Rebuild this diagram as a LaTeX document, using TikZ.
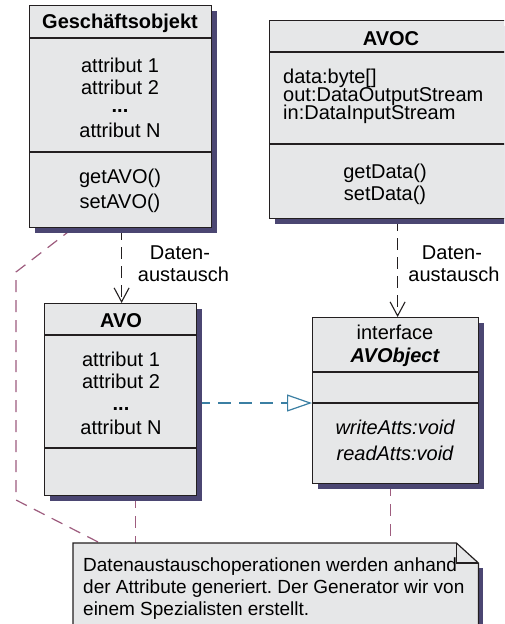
\documentclass[tikz,border=0pt]{standalone}
\usepackage{fontspec}
\setmainfont{Liberation Sans}
\frenchspacing
\usetikzlibrary{arrows.meta,shadows,calc,backgrounds}
\definecolor{boxfill}{HTML}{E6E7E8}
\definecolor{shadowc}{HTML}{4B4672}
\definecolor{linec}{HTML}{231F20}
\definecolor{notec}{HTML}{9E5C7E}
\definecolor{realc}{HTML}{3B7FA3}
\begin{document}
\begin{tikzpicture}[x=1pt,y=-1pt,
  classbox/.style={draw=linec, line width=1.2pt, fill=boxfill, anchor=north west, inner sep=0pt,
    general shadow={fill=shadowc, shadow xshift=5pt, shadow yshift=-5pt}},
  sepline/.style={draw=linec, line width=1.1pt},
  txt/.style={font=\fontsize{20}{22}\selectfont, inner sep=0pt, anchor=base},
  txtl/.style={txt, anchor=base west},
  txtb/.style={txt, font=\fontsize{20}{22}\selectfont\bfseries},
  txti/.style={txt, font=\fontsize{20}{22}\selectfont\itshape},
  txtbi/.style={txt, font=\fontsize{20}{22}\selectfont\bfseries\itshape},
  notetxt/.style={font=\fontsize{19}{22}\selectfont, inner sep=0pt, anchor=base west},
  flow/.style={draw=linec, line width=1.1pt, dash pattern=on 12pt off 7pt,
    -{Straight Barb[length=14pt,width=15pt]}},
  realize/.style={draw=realc, line width=1.2pt, dash pattern=on 13pt off 8pt,
    -{Triangle[open,length=25pt,width=17pt]}},
  anchorline/.style={draw=notec, line width=1.2pt, dash pattern=on 12pt off 8pt},
]
\useasboundingbox (0,0) rectangle (504,624);
\clip (0,0) rectangle (504,624);

% ---------- classes ----------
\node[classbox, minimum width=182pt, minimum height=222pt] (gesch) at (29,5) {};
\draw[sepline] ($(gesch.north west)+(0,33)$) -- ($(gesch.north east)+(0,33)$);
\draw[sepline] ($(gesch.north west)+(0,147)$) -- ($(gesch.north east)+(0,147)$);
\node[txtb] (gtitle) at (120,28.5) {Geschäftsobjekt};
\node[txt] (ga1) at (120,72) {attribut 1};
\node[txt] (ga2) at (120,94) {attribut 2};
\node[txtb] (gad) at (120,112) {...};
\node[txt] (gan) at (120,137) {attribut N};
\node[txt] (gm1) at (120,183.5) {getAVO()};
\node[txt] (gm2) at (120,208.5) {setAVO()};

\node[classbox, minimum width=243pt, minimum height=198pt] (avoc) at (269,20) {};
\draw[sepline] ($(avoc.north west)+(0,32)$) -- ($(avoc.north east)+(0,32)$);
\draw[sepline] ($(avoc.north west)+(0,124)$) -- ($(avoc.north east)+(0,124)$);
\node[txtb] (ctitle) at (391,45) {AVOC};
\node[txtl] (ca1) at (283,83.5) {data:byte[]};
\node[txtl] (ca2) at (283,101.5) {out:DataOutputStream};
\node[txtl] (ca3) at (283,119.5) {in:DataInputStream};
\node[txt] (cm1) at (385,178) {getData()};
\node[txt] (cm2) at (385,200) {setData()};

\node[classbox, minimum width=152pt, minimum height=192pt] (avo) at (44,303) {};
\draw[sepline] ($(avo.north west)+(0,32)$) -- ($(avo.north east)+(0,32)$);
\draw[sepline] ($(avo.north west)+(0,145)$) -- ($(avo.north east)+(0,145)$);
\node[txtb] (atitle) at (121,327) {AVO};
\node[txt] (aa1) at (121,366.5) {attribut 1};
\node[txt] (aa2) at (121,388.5) {attribut 2};
\node[txtb] (aad) at (121,410) {...};
\node[txt] (aan) at (121,434) {attribut N};

\node[classbox, minimum width=166pt, minimum height=166pt] (avobj) at (312,317) {};
\draw[sepline] ($(avobj.north west)+(0,55)$) -- ($(avobj.north east)+(0,55)$);
\draw[sepline] ($(avobj.north west)+(0,86)$) -- ($(avobj.north east)+(0,86)$);
\node[txt] (ostereo) at (395,339) {interface};
\node[txtbi] (otitle) at (395,362.5) {AVObject};
\node[txti] (om1) at (395,434) {writeAtts:void};
\node[txti] (om2) at (395,460.5) {readAtts:void};

% ---------- note ----------
\node[anchor=north west, minimum width=405pt, minimum height=97pt, inner sep=0pt] (note) at (73,543) {};
\fill[shadowc] ($(note.north east)+(0,25)$) rectangle ($(note.south east)+(5,0)$);
\filldraw[fill=boxfill, draw=linec, line width=1.2pt]
  (note.south west) -- (note.north west) -- ($(note.north east)+(-22,0)$)
  -- ($(note.north east)+(0,20)$) -- (note.south east) -- cycle;
\draw[linec, line width=1.1pt] ($(note.north east)+(-22,0)$) -- ($(note.north east)+(-22,20)$)
  -- ($(note.north east)+(0,20)$);
\node[notetxt] (n1) at (83,571) {Datenaustauschoperationen werden anhand};
\node[notetxt] (n2) at (83,593) {der Attribute generiert. Der Generator wir von};
\node[notetxt] (n3) at (83,615.5) {einem Spezialisten erstellt.};

% ---------- labels ----------
\node[txt] (l1a) at (180,259) {Daten-};
\node[txt] (l1b) at (183.5,281.5) {austausch};
\node[txt] (l2a) at (452,259) {Daten-};
\node[txt] (l2b) at (454,281.5) {austausch};

% ---------- connectors ----------
\begin{pgfonlayer}{background}
\fill[white] (0,0) rectangle (504,624);
\coordinate (gin) at ($(avo.north)+(1,0)$);
\draw[flow] (gin |- gesch.south) -- (gin);
\coordinate (ifin) at ($(avobj.north)+(2,0)$);
\draw[flow] (ifin |- avoc.south) -- (ifin);
\coordinate (ifsep) at ($(avobj.north west)+(0,86)$);
\draw[realize] (avo.east |- ifsep) -- (ifsep);
\coordinate (gfoot) at ($(gesch.south west)+(44,0)$);
\coordinate (bendA) at (16,272);
\coordinate (bendB) at (16,500);
\coordinate (ntA) at ($(note.north west)+(27,0)$);
\draw[anchorline] (gfoot) -- (bendA) -- (bendB) -- (ntA);
\coordinate (afoot) at ($(avo.south)+(15,0)$);
\draw[anchorline] (afoot) -- (afoot |- note.north);
\coordinate (ifoot) at ($(avobj.south)+(-5,0)$);
\draw[anchorline] (ifoot) -- (ifoot |- note.north);
\end{pgfonlayer}
\end{tikzpicture}
\end{document}
